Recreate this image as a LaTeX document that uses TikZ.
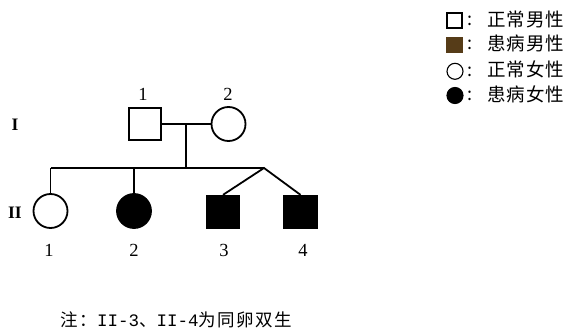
\documentclass[tikz,border=0pt]{standalone}
\usepackage{fontspec}
\newfontfamily\cjk{Noto Sans CJK SC}[LetterSpace=5]
\newfontfamily\cjknote{Noto Sans CJK SC}[LetterSpace=8]
\newfontfamily\monofnt{Liberation Mono}
\newfontfamily\digfnt{Liberation Serif}
\definecolor{legbrown}{HTML}{563C18}
\tikzset{
  pline/.style={line width=1.8pt},
  malesym/.style={draw, line width=1.8pt, rectangle, minimum size=32.5pt, inner sep=0pt},
  femsym/.style={draw, line width=1.8pt, circle, minimum size=34pt, inner sep=0pt},
  affm/.style={malesym, fill=black},
  afff/.style={femsym, fill=black},
  lbl/.style={inner sep=0pt, font=\fontsize{18.5}{18.5}\digfnt},
  gen/.style={inner sep=0pt, font=\fontsize{17.5}{17.5}\digfnt\bfseries},
  legsq/.style={draw, line width=1.1pt, rectangle, minimum size=15pt, inner sep=0pt},
  legci/.style={draw, line width=1.1pt, circle, minimum size=16pt, inner sep=0pt},
  legcol/.style={inner sep=0pt, font=\fontsize{18}{18}\cjk},
  legtxt/.style={anchor=west, inner sep=0pt, font=\fontsize{18.5}{18.5}\cjk},
}
\begin{document}
\begin{tikzpicture}[x=1pt,y=-1pt]
\useasboundingbox (0,0) rectangle (564,329);
% generation I
\node[malesym] (i1) at (145,124) {};
\node[femsym] (i2) at (228.5,124) {};
\coordinate (m) at (186,124);
\coordinate (s) at (186,168);
\draw[pline] (i1.east) -- (i2.west);
\draw[pline] (m) -- (s);
% sibship
\coordinate (sl) at (50.5,168);
\coordinate (sr) at (264,168);
\coordinate (b2) at (134,168);
\draw[pline] (sl) -- (sr);
% generation II
\node[femsym] (ii1) at (50.5,211) {};
\node[afff] (ii2) at (134,211) {};
\node[affm] (ii3) at (223,212) {};
\node[affm] (ii4) at (300.5,212) {};
\draw[pline] (sl) -- (ii1.north);
\draw[pline] (b2) -- (ii2.north);
\draw[pline] (ii3.north) -- (sr) -- (ii4.north);
% labels
\node[lbl] (l11) at (143,94) {1};
\node[lbl] (l12) at (228,94) {2};
\node[gen] (g1) at (15,125) {I};
\node[gen] (g2) at (15,213) {II};
\node[lbl] (l21) at (49,250) {1};
\node[lbl] (l22) at (134,250) {2};
\node[lbl] (l23) at (224,250) {3};
\node[lbl] (l24) at (303,250) {4};
% legend
\node[legsq] (k1) at (454.5,20.5) {};
\node[legsq, draw=legbrown, fill=legbrown] (k2) at (454.5,44.7) {};
\node[legci] (k3) at (455,71.3) {};
\node[legci, fill=black] (k4) at (455,95.5) {};
\node[legcol] (c1) at (470,21) {:};
\node[legcol] (c2) at (470,45.2) {:};
\node[legcol] (c3) at (470,71.8) {:};
\node[legcol] (c4) at (470,96) {:};
\node[legtxt] (t1) at (487,19.5) {正常男性};
\node[legtxt] (t2) at (487,43.7) {患病男性};
\node[legtxt] (t3) at (487,69.5) {正常女性};
\node[legtxt] (t4) at (487,94) {患病女性};
% note
\node[anchor=west, inner sep=0pt, font=\fontsize{17.5}{17.5}\selectfont] (note) at (60.5,320)
  {{\cjknote 注：}{\monofnt II-3}{\cjknote 、}{\monofnt II-4}{\cjknote 为同卵双生}};
\end{tikzpicture}
\end{document}
